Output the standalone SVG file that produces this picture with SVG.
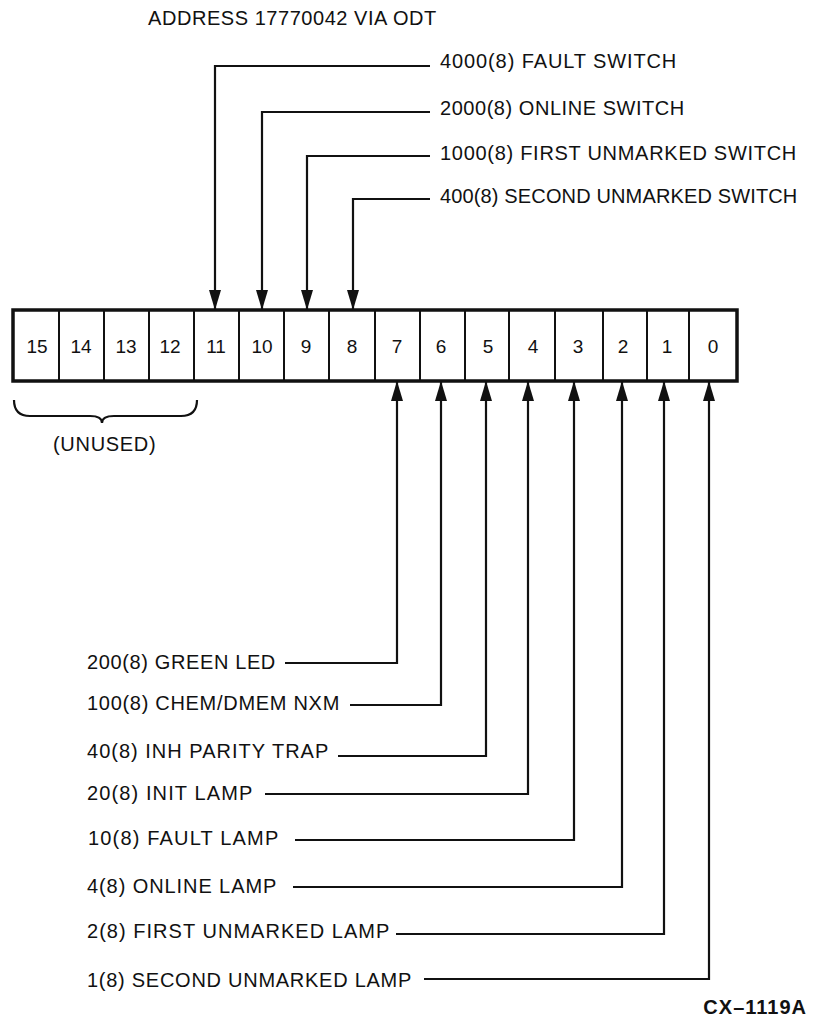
<svg xmlns="http://www.w3.org/2000/svg" width="814" height="1019" viewBox="0 0 814 1019">
<style>
text{font-family:"Liberation Sans",Arial,sans-serif;font-size:20px;fill:#111;letter-spacing:0.7px}
.bit{text-anchor:middle;font-size:19px;letter-spacing:0}
.cell{fill:#fff;stroke:#111;stroke-width:2}
.frame{fill:none;stroke:#111;stroke-width:3.5}
.wire{fill:none;stroke:#111;stroke-width:2.2;stroke-linejoin:miter}
.id{font-weight:bold;letter-spacing:1px}
</style>
<defs>
<marker id="arr" markerUnits="userSpaceOnUse" markerWidth="20" markerHeight="12" viewBox="0 0 20 12" refX="20" refY="6" orient="auto">
<path d="M0,0 L20,6 L0,12 Z" fill="#111"/>
</marker>
</defs>
<g id="title"><text x="148" y="25" textLength="289" lengthAdjust="spacing">ADDRESS 17770042 VIA ODT</text></g>
<g id="register">
<rect class="cell" x="13" y="310" width="46" height="71"/>
<rect class="cell" x="59" y="310" width="45" height="71"/>
<rect class="cell" x="104" y="310" width="45" height="71"/>
<rect class="cell" x="149" y="310" width="45" height="71"/>
<rect class="cell" x="194" y="310" width="45" height="71"/>
<rect class="cell" x="239" y="310" width="45" height="71"/>
<rect class="cell" x="284" y="310" width="45" height="71"/>
<rect class="cell" x="329" y="310" width="46" height="71"/>
<rect class="cell" x="375" y="310" width="45" height="71"/>
<rect class="cell" x="420" y="310" width="45" height="71"/>
<rect class="cell" x="465" y="310" width="44" height="71"/>
<rect class="cell" x="509" y="310" width="46" height="71"/>
<rect class="cell" x="555" y="310" width="48" height="71"/>
<rect class="cell" x="603" y="310" width="44" height="71"/>
<rect class="cell" x="647" y="310" width="42" height="71"/>
<rect class="cell" x="689" y="310" width="48" height="71"/>
<rect class="frame" x="13" y="310" width="724" height="71"/>
<text class="bit" x="37" y="353">15</text>
<text class="bit" x="81" y="353">14</text>
<text class="bit" x="126" y="353">13</text>
<text class="bit" x="170" y="353">12</text>
<text class="bit" x="216" y="353">11</text>
<text class="bit" x="262" y="353">10</text>
<text class="bit" x="306" y="353">9</text>
<text class="bit" x="352" y="353">8</text>
<text class="bit" x="397" y="353">7</text>
<text class="bit" x="441" y="353">6</text>
<text class="bit" x="488" y="353">5</text>
<text class="bit" x="533" y="353">4</text>
<text class="bit" x="578" y="353">3</text>
<text class="bit" x="623" y="353">2</text>
<text class="bit" x="667" y="353">1</text>
<text class="bit" x="713" y="353">0</text>
</g>
<g id="unused">
<path class="wire" d="M14,400 Q14,416 30,416 H90 Q102,416 102,423 Q102,416 114,416 H181 Q197,416 197,400"/>
<text x="53" y="451">(UNUSED)</text>
</g>
<g id="connectors">
<path class="wire" d="M430,66 H215 V310" marker-end="url(#arr)"/>
<path class="wire" d="M430,112 H262 V310" marker-end="url(#arr)"/>
<path class="wire" d="M430,156 H307 V310" marker-end="url(#arr)"/>
<path class="wire" d="M430,199 H353 V310" marker-end="url(#arr)"/>
<path class="wire" d="M285,663 H397 V381" marker-end="url(#arr)"/>
<path class="wire" d="M350,705 H441 V381" marker-end="url(#arr)"/>
<path class="wire" d="M338,756 H486 V381" marker-end="url(#arr)"/>
<path class="wire" d="M265,794 H528 V381" marker-end="url(#arr)"/>
<path class="wire" d="M295,840 H574 V381" marker-end="url(#arr)"/>
<path class="wire" d="M293,887 H622 V381" marker-end="url(#arr)"/>
<path class="wire" d="M396,934 H664 V381" marker-end="url(#arr)"/>
<path class="wire" d="M424,979 H709 V381" marker-end="url(#arr)"/>
</g>
<g id="lbl-4000"><text x="440" y="68" textLength="237" lengthAdjust="spacing">4000(8) FAULT SWITCH</text></g>
<g id="lbl-2000"><text x="440" y="115" textLength="245" lengthAdjust="spacing">2000(8) ONLINE SWITCH</text></g>
<g id="lbl-1000"><text x="440" y="160" textLength="357" lengthAdjust="spacing">1000(8) FIRST UNMARKED SWITCH</text></g>
<g id="lbl-400"><text x="440" y="203" textLength="358" lengthAdjust="spacing">400(8) SECOND UNMARKED SWITCH</text></g>
<g id="lbl-200"><text x="87" y="669" textLength="189" lengthAdjust="spacing">200(8) GREEN LED</text></g>
<g id="lbl-100"><text x="87" y="710" textLength="253" lengthAdjust="spacing">100(8) CHEM/DMEM NXM</text></g>
<g id="lbl-40"><text x="87" y="758" textLength="242" lengthAdjust="spacing">40(8) INH PARITY TRAP</text></g>
<g id="lbl-20"><text x="87" y="800" textLength="166" lengthAdjust="spacing">20(8) INIT LAMP</text></g>
<g id="lbl-10"><text x="88" y="845" textLength="191" lengthAdjust="spacing">10(8) FAULT LAMP</text></g>
<g id="lbl-4"><text x="87" y="893" textLength="190" lengthAdjust="spacing">4(8) ONLINE LAMP</text></g>
<g id="lbl-2"><text x="87" y="938" textLength="303" lengthAdjust="spacing">2(8) FIRST UNMARKED LAMP</text></g>
<g id="lbl-1"><text x="87" y="987" textLength="325" lengthAdjust="spacing">1(8) SECOND UNMARKED LAMP</text></g>
<g id="figid"><text class="id" x="807" y="1014" text-anchor="end">CX–1119A</text></g>
</svg>
